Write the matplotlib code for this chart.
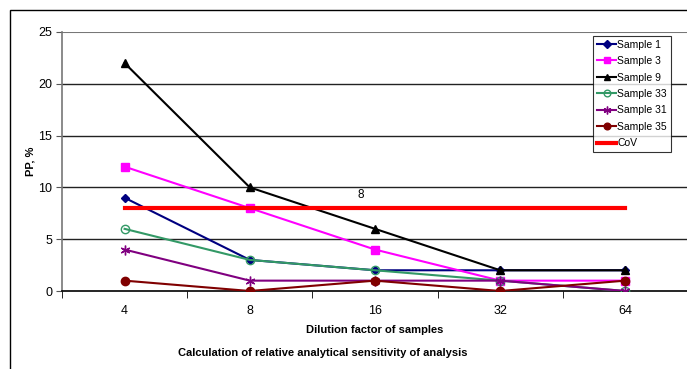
import matplotlib
matplotlib.use("Agg")
import matplotlib.pyplot as plt
from matplotlib.patches import Rectangle

plt.rcParams['font.family'] = ['Liberation Sans', 'DejaVu Sans']

categories = ["4", "8", "16", "32", "64"]
sample1 = [9, 3, 2, 2, 2]
sample3 = [12, 8, 4, 1, 1]
sample9 = [22, 10, 6, 2, 2]
sample33 = [6, 3, 2, 1, 0]
sample31 = [4, 1, 1, 1, 0]
sample35 = [1, 0, 1, 0, 1]
cov = [8, 8, 8, 8, 8]
cov_label = "8"

W, H = 687, 369
fig = plt.figure(figsize=(W / 100, H / 100), dpi=100)
ax = fig.add_axes([62 / W, 1 - 291 / H, 626 / W, 259 / H])

x = list(range(len(categories)))
lw = 1.5
ax.plot(x, sample1, color="#000080", marker="D", ms=4.5, lw=lw, label="Sample 1", zorder=3)
ax.plot(x, sample3, color="#FF00FF", marker="s", ms=6, lw=lw, label="Sample 3", zorder=3)
ax.plot(x, sample9, color="black", marker="^", ms=6, lw=lw, label="Sample 9", zorder=3)
ax.plot(x, sample33, color="#339966", marker="o", ms=6, mfc="none", mew=1.0, lw=lw, label="Sample 33", zorder=3)
ax.plot(x, sample31, color="#800080", marker=(6, 2, 0), ms=7, mew=1.0, lw=lw, label="Sample 31", zorder=3)
ax.plot(x, sample35, color="#800000", marker="o", ms=6, lw=lw, label="Sample 35", zorder=3)
ax.plot(x, cov, color="#FF0000", lw=3, label="CoV", zorder=3)
ax.text(1.89, 9.3, cov_label, fontsize=8.5, ha="center", va="center")

ax.set_xlim(-0.5, 4.5)
ax.set_ylim(0, 25)
ax.set_yticks([0, 5, 10, 15, 20, 25])
ax.set_xticks(x)
ax.set_xticklabels(categories)
ax.set_xticks([-0.5, 0.5, 1.5, 2.5, 3.5], minor=True)
ax.tick_params(axis="x", which="major", length=0, labelsize=9, pad=10)
ax.tick_params(axis="x", which="minor", length=5, direction="out", color="black")
ax.tick_params(axis="y", length=4, direction="out", labelsize=9, color="#555555", pad=3)
for yv in [5, 10, 15, 20]:
    ax.axhline(yv, color="#222222", lw=1.0, zorder=1)
ax.axhline(25, color="#777777", lw=1.5, zorder=1)
ax.spines["top"].set_visible(False)
ax.spines["right"].set_visible(False)
ax.spines["left"].set_color("#777777")
ax.spines["left"].set_linewidth(1.2)
ax.spines["bottom"].set_color("black")
ax.spines["bottom"].set_linewidth(1.2)

ax.set_ylabel("PP, %", fontsize=8, fontweight="bold")
ax.yaxis.set_label_coords((35 - 62) / 626, 0.5)
ax.set_xlabel("Dilution factor of samples", fontsize=8, fontweight="bold", labelpad=6)
fig.text(323 / W, 1 - 353 / H, "Calculation of relative analytical sensitivity of analysis",
         fontsize=8, fontweight="bold", ha="center", va="center")

leg = ax.legend(loc="upper left", bbox_to_anchor=((593 - 62) / 626, (291 - 36) / 259),
                fontsize=7.5, frameon=True, fancybox=False, edgecolor="black",
                handlelength=1.9, handletextpad=0.1, borderpad=0.35, labelspacing=0.62,
                borderaxespad=0, markerscale=0.8)
leg.get_frame().set_linewidth(0.8)

fig.patches.append(Rectangle((10 / W, -0.1), 1.2, 1 - 10 / H + 0.1, transform=fig.transFigure,
                             fill=False, edgecolor="black", lw=1.0))

fig.savefig("out.png", dpi=100)
